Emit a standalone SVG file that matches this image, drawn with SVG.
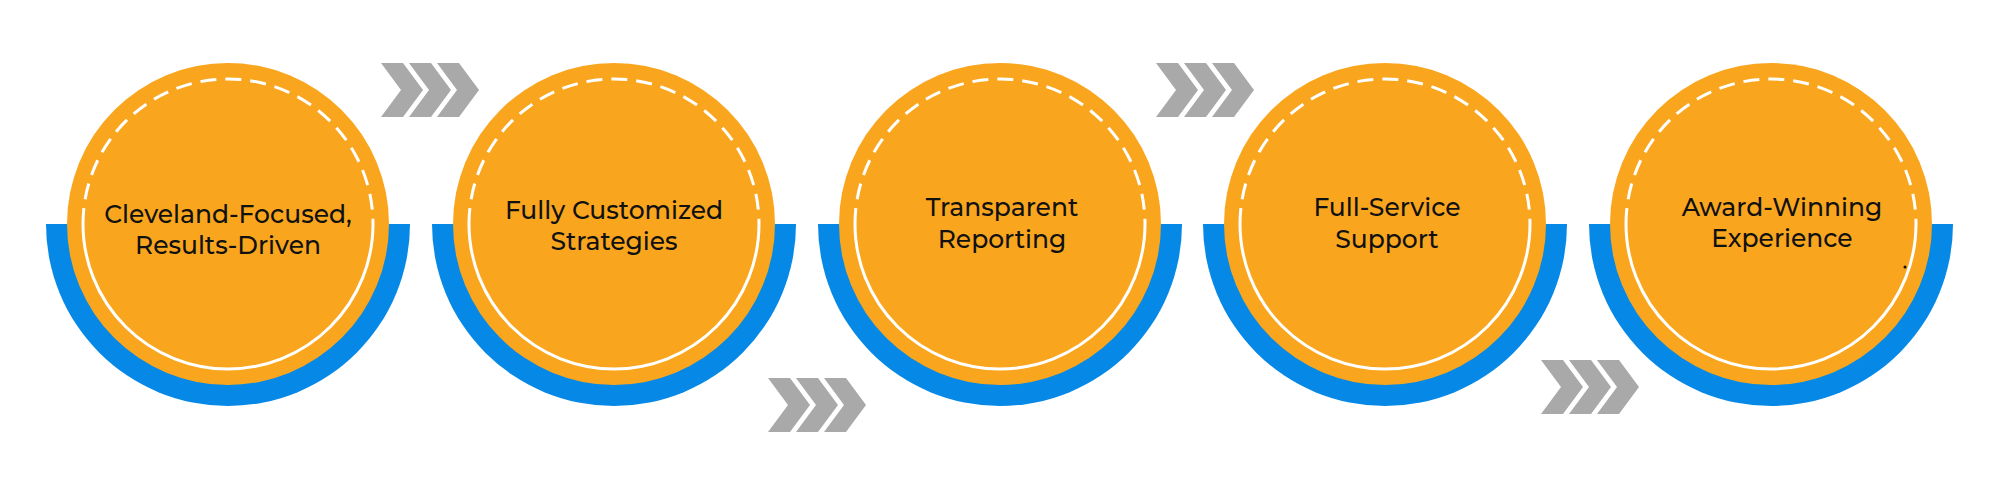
<svg xmlns="http://www.w3.org/2000/svg" width="2000" height="484" viewBox="0 0 2000 484">
<style>
.blue{fill:#0588E6}.or{fill:#F9A61E}
.dash{fill:none;stroke:#fff;stroke-width:3;stroke-dasharray:16 9}
.sol{fill:none;stroke:#fff;stroke-width:3}
.chev{fill:#A9A9A9}
text{font-family:Montserrat,"Open Sans","Liberation Sans",sans-serif;font-size:25px;font-weight:500;fill:#111;text-anchor:middle}
</style>
<defs>
<g id="node">
<path class="blue" d="M-182 0 H182 A182 182 0 0 1 -182 0 Z"/>
<circle class="or" r="161"/>
<path class="dash" d="M-145 0 A145 145 0 0 1 145 0"/>
<path class="sol" d="M-145 0 A145 145 0 0 0 145 0"/>
</g>
<g id="chevs">
<polygon class="chev" points="0,0 22,0 42,27 22,54 0,54 20,27"/>
<polygon class="chev" points="28,0 50,0 70,27 50,54 28,54 48,27"/>
<polygon class="chev" points="56,0 78,0 98,27 78,54 56,54 76,27"/>
</g>
</defs>
<g id="connectors">
<use href="#chevs" x="381" y="63"/>
<use href="#chevs" x="768" y="378"/>
<use href="#chevs" x="1156" y="63"/>
<use href="#chevs" x="1541" y="360"/>
</g>
<g id="n1" transform="translate(228,224)"><use href="#node"/><text x="0" y="-1">Cleveland-Focused,</text><text x="0" y="30">Results-Driven</text></g>
<g id="n2" transform="translate(614,224)"><use href="#node"/><text x="0" y="-5">Fully Customized</text><text x="0" y="26">Strategies</text></g>
<g id="n3" transform="translate(1000,224)"><use href="#node"/><text x="2" y="-8">Transparent</text><text x="2" y="24">Reporting</text></g>
<g id="n4" transform="translate(1385,224)"><use href="#node"/><text x="2" y="-8">Full-Service</text><text x="2" y="24">Support</text></g>
<g id="n5" transform="translate(1771,224)"><use href="#node"/><text x="11" y="-8">Award-Winning</text><text x="11" y="23">Experience</text><circle cx="134" cy="43" r="1.5" fill="#111"/></g>
</svg>
